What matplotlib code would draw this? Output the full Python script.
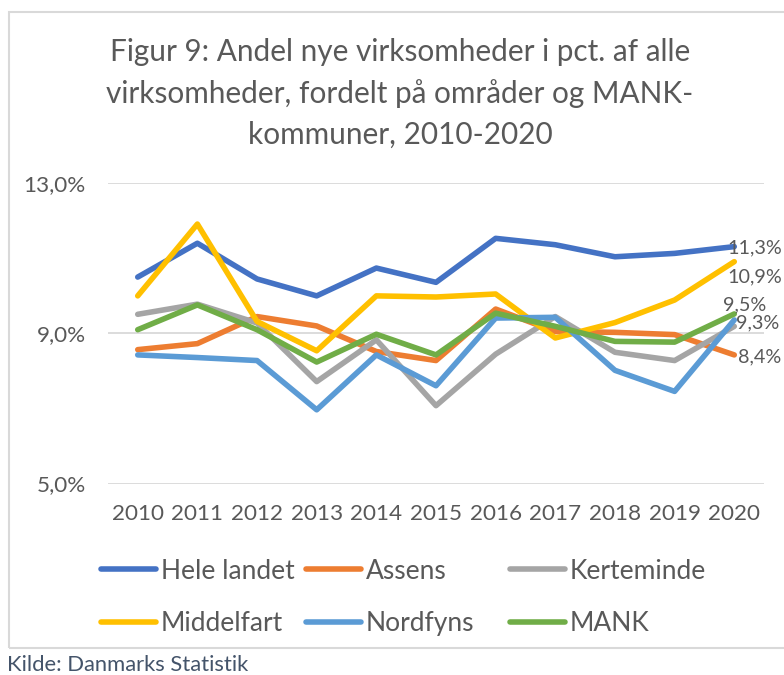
import matplotlib
matplotlib.use("Agg")
import matplotlib.pyplot as plt
from matplotlib.patches import Rectangle

plt.rcParams['font.family'] = ['Lato', 'DejaVu Sans']

years = [2010, 2011, 2012, 2013, 2014, 2015, 2016, 2017, 2018, 2019, 2020]
hele_landet = [10.49, 11.39, 10.44, 9.99, 10.73, 10.35, 11.52, 11.35, 11.03, 11.12, 11.30]
assens = [8.56, 8.72, 9.44, 9.19, 8.51, 8.27, 9.64, 9.04, 9.02, 8.96, 8.42]
kerteminde = [9.50, 9.77, 9.27, 7.71, 8.82, 7.07, 8.44, 9.44, 8.49, 8.27, 9.18]
middelfart = [9.99, 11.90, 9.31, 8.53, 9.99, 9.96, 10.04, 8.87, 9.28, 9.88, 10.90]
nordfyns = [8.42, 8.35, 8.27, 6.96, 8.42, 7.60, 9.40, 9.42, 8.01, 7.45, 9.35]
mank = [9.09, 9.75, 9.09, 8.23, 8.97, 8.42, 9.53, 9.18, 8.78, 8.76, 9.51]

series_names = ["Hele landet", "Assens", "Kerteminde", "Middelfart", "Nordfyns", "MANK"]
series_values = [hele_landet, assens, kerteminde, middelfart, nordfyns, mank]
colors = ["#4472C4", "#ED7D31", "#A5A5A5", "#FFC000", "#5B9BD5", "#70AD47"]

y_ticks = [5.0, 9.0, 13.0]
y_tick_labels = ["5,0%", "9,0%", "13,0%"]

# end labels: (series index, text, offset px)
end_labels = [(0, "11,3%", (-7, -1)), (3, "10,9%", (-7, -15)), (5, "9,5%", (-11, 9)),
              (4, "9,3%", (2, -3)), (1, "8,4%", (4, -2))]

TXT = "#595959"

fig = plt.figure(figsize=(7.84, 6.75), dpi=100)
# chart frame
fig.patches.append(Rectangle((9/784, 1-648/675), 1.0, (648-12)/675, transform=fig.transFigure,
                             fill=False, edgecolor="#D9D9D9", linewidth=1.5))

ax = fig.add_axes([107.9/784, 1-483.5/675, 656.2/784, 300.8/675])
x = list(range(len(years)))
handles = []
for name, vals, c in zip(series_names, series_values, colors):
    ln, = ax.plot(x, vals, color=c, linewidth=4.0, solid_capstyle="round",
                  solid_joinstyle="round", label=name)
    handles.append(ln)

for idx, txt, (dx, dy) in end_labels:
    ax.annotate(txt, (x[-1], series_values[idx][-1]), xytext=(dx, dy),
                textcoords="offset pixels", ha="left", va="center",
                fontsize=14.2, color=TXT, annotation_clip=False)

ax.set_xlim(-0.5, len(years) - 0.5)
ax.set_ylim(5, 13)
ax.set_yticks(y_ticks)
ax.set_yticklabels(y_tick_labels)
ax.set_xticks(x)
ax.set_xticklabels([str(y) for y in years])
ax.grid(axis="y", color="#D9D9D9", linewidth=1.3)
ax.set_axisbelow(True)
for s in ax.spines.values():
    s.set_visible(False)
ax.tick_params(axis="both", length=0, labelsize=16.2, colors=TXT)
ax.tick_params(axis="y", pad=16)
ax.tick_params(axis="x", pad=15)

# legend in three columns
col_x = [101/784, 306/784, 510/784]
for ci in range(3):
    hs = [handles[ci], handles[ci + 3]]
    leg = fig.legend(handles=hs, labels=[h.get_label() for h in hs], loc="center left",
                     bbox_to_anchor=(col_x[ci], 1 - 597.5/675), frameon=False,
                     fontsize=19, handlelength=2.08, handletextpad=0.19,
                     labelspacing=1.06, borderaxespad=0, borderpad=0,
                     labelcolor=TXT)
    for lh in leg.get_lines():
        lh.set_linewidth(4.0)
        lh.set_solid_capstyle("round")

fig.text(400/784, 1 - 93/675,
         "Figur 9: Andel nye virksomheder i pct. af alle\nvirksomheder, fordelt på områder og MANK-\nkommuner, 2010-2020",
         ha="center", va="center", fontsize=21.4, color=TXT, linespacing=1.55)

fig.text(7/784, 1 - 665/675, "Kilde: Danmarks Statistik", ha="left", va="center",
         fontsize=15.8, color="#44546A")

fig.savefig("out.png", dpi=100)
